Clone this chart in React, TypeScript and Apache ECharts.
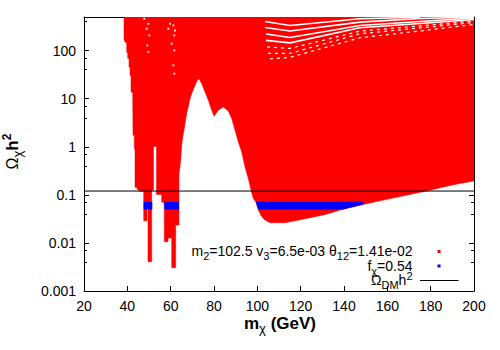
import React, { useEffect, useRef } from 'react';
import * as echarts from 'echarts';

const FONT = "'Liberation Sans', Arial, Helvetica, sans-serif";

// axis ranges / ticks
const xRange = [20, 200];
const xStep = 20;
const yRange = [0.001, 500];
const omegaDM = 0.12;

// boundary of the red (all points) region, m_chi [GeV] vs Omega h^2
const redRegion: [number, number][] = [
  [38.46, 500], [200, 500], [200, 0.195], [193.5, 0.172], [187.4, 0.151], [179.7, 0.125],
  [156.6, 0.075], [148.9, 0.0631], [144.3, 0.0562], [138.2, 0.0481], [132.0, 0.0397],
  [122.8, 0.0323], [112.8, 0.0262], [105.9, 0.0262], [103.1, 0.0308], [101.6, 0.0378],
  [100.5, 0.0481], [99.25, 0.0715], [98.14, 0.0841], [97.08, 0.125], [95.83, 0.219],
  [94.31, 0.381], [92.78, 0.78], [91.22, 1.26], [89.69, 2.2], [88.17, 3.85], [86.6, 5.54],
  [84.29, 6.71], [81.98, 5.73], [80.0, 4.3], [78.94, 5.73], [77.37, 9.25], [75.85, 13.7],
  [74.32, 20.5], [73.08, 26.1], [72.29, 24.0], [71.23, 18.9], [69.98, 13.7], [68.92, 10.0],
  [68.14, 6.71], [67.4, 4.9], [66.75, 3.28], [66.15, 2.2], [65.55, 1.6], [65.09, 1.07],
  [64.63, 0.525], [63.85, 0.256],
  [63.85, 0.0235], [62.32, 0.0235], [62.32, 0.00305], [60.48, 0.00305], [60.48, 0.0126],
  [58.77, 0.0126], [58.77, 0.0106], [57.06, 0.0106], [57.06, 0.0705], [55.86, 0.0705],
  [55.86, 0.102], [53.46, 0.102], [53.46, 1.01], [52.08, 1.01], [52.08, 0.125],
  [51.25, 0.125], [51.25, 0.00406], [49.54, 0.00406], [49.54, 0.0505], [49.08, 0.0505],
  [49.08, 0.0288], [47.55, 0.0288], [47.55, 0.119], [45.38, 0.119], [45.38, 0.129],
  [44.46, 0.129], [44.46, 0.144], [43.54, 0.144], [43.54, 0.9], [43.22, 0.9], [43.22, 1.73],
  [42.62, 1.73], [42.48, 13.6], [41.69, 13.6], [41.69, 30.5], [41.23, 30.5], [41.23, 44.8],
  [40.77, 44.8], [40.77, 68.9], [40.17, 68.9], [40.17, 91.8], [39.71, 91.8], [39.71, 148],
  [38.92, 148], [38.92, 163], [38.46, 163],
];

// blue points (f_chi = 0.54)
const blueLeft: [number, number][] = [[47.55, 0.0715], [51.52, 0.0715], [51.52, 0.0497], [47.55, 0.0497]];
const blueMid: [number, number][] = [[57.06, 0.0715], [63.85, 0.0715], [63.85, 0.0497], [57.06, 0.0497]];
const blueRight: [number, number][] = [[99.25, 0.0715], [148.9, 0.0715], [148.9, 0.0631], [139.4, 0.0497], [100.4, 0.0497]];
const blueBands = [blueLeft, blueMid, blueRight];

// white gaps between the scan lines at the top right
const whiteStripes: [number, number][][] = [
  [[103.5, 404], [115.1, 334], [147.4, 459], [175.1, 495]],
  [[103.5, 303], [115.1, 256], [147.4, 391], [175.1, 466], [200, 495]],
  [[104.0, 222], [115.1, 188], [147.4, 334], [175.1, 404], [200, 477]],
  [[104.0, 163], [115.1, 145], [147.4, 299], [175.1, 367], [200, 445]],
  [[104.5, 119], [115.1, 111], [147.4, 254], [175.1, 326], [200, 414]],
  [[104.9, 87.5], [115.1, 87.5], [147.4, 224], [175.1, 296], [200, 385]],
  [[105.8, 67.3], [115.1, 72.3], [147.4, 185], [175.1, 256], [200, 350]],
];

// isolated white gaps at the top left
const whiteSpecks: [number, number][] = [
  [47.83, 459], [49.68, 362], [48.94, 285], [50.14, 207], [49.22, 128], [49.68, 93.1],
  [59.69, 362], [61.22, 334], [58.91, 285], [62.0, 262], [61.68, 207], [60.48, 139],
  [61.68, 101], [61.22, 49.3], [61.68, 33.1],
];

// text segments: [text, kind] kind: 'n' normal, 's' subscript, 'p' superscript
type Seg = [string, string];
const legendRow1: Seg[] = [['m', 'n'], ['2', 's'], ['=102.5 v', 'n'], ['3', 's'], ['=6.5e-03 θ', 'n'], ['12', 's'], ['=1.41e-02', 'n']];
const legendRow2: Seg[] = [['f', 'n'], ['χ', 's'], ['=0.54', 'n']];
const legendRow3: Seg[] = [['Ω', 'n'], ['DM', 's'], ['h', 'n'], ['2', 'p']];
const xTitle: Seg[] = [['m', 'b'], ['χ', 's'], [' (GeV)', 'b']];
const yTitle: Seg[] = [['Ω', 'g'], ['χ', 's'], ['h', 'b'], ['2', 'p']];

export default function App() {
  const ref = useRef<HTMLDivElement>(null);
  useEffect(() => {
    const chart = echarts.init(ref.current as HTMLDivElement, null, { renderer: 'svg' });
    const ctx = document.createElement('canvas').getContext('2d') as CanvasRenderingContext2D;

    type Sty = { size: number; weight: string; dy: number; lh: number };
    const layout = (segs: Seg[], stys: Record<string, Sty>, anchor: 'right' | 'center') => {
      const parts = segs.map(([t, k]) => {
        const s = stys[k];
        ctx.font = `${s.weight} ${s.size}px ${FONT}`;
        return { t, s, w: ctx.measureText(t).width };
      });
      const total = parts.reduce((a, p) => a + p.w, 0);
      let cx = anchor === 'right' ? -total : -total / 2;
      return parts.map((p) => {
        const el = {
          type: 'text', x: cx, y: p.s.dy,
          style: {
            text: p.t, fontSize: p.s.size, fontWeight: p.s.weight, fontFamily: FONT, lineHeight: p.s.lh,
            fill: '#000', align: 'left', verticalAlign: 'middle',
          },
        };
        cx += p.w;
        return el;
      });
    };
    const legendSty: Record<string, Sty> = {
      n: { size: 14, weight: 'normal', dy: 0, lh: 10 },
      s: { size: 11, weight: 'normal', dy: 5, lh: 9 },
      p: { size: 11, weight: 'normal', dy: -4.5, lh: 9 },
    };
    const titleSty: Record<string, Sty> = {
      b: { size: 17, weight: 'bold', dy: 0, lh: 18 },
      g: { size: 16, weight: 'normal', dy: 0, lh: 18 },
      s: { size: 13, weight: 'normal', dy: 5, lh: 13 },
      p: { size: 12, weight: 'bold', dy: -5, lh: 12 },
    };

    const axisLine = { show: true, onZero: false, lineStyle: { color: '#000', width: 1 } };
    const tick = { show: true, inside: true, length: 5, lineStyle: { color: '#000', width: 1 } };
    const minorTick = { show: true, splitNumber: 3, length: 3, lineStyle: { color: '#000', width: 1 } };
    const yAx = (pos: string, labels: boolean) => ({
      type: 'log', logBase: 10, min: yRange[0], max: yRange[1], position: pos,
      axisLine, axisTick: tick, minorTick,
      splitLine: { show: false }, minorSplitLine: { show: false },
      axisLabel: {
        show: labels, color: '#000', fontSize: 14, fontFamily: FONT, margin: 8,
        showMaxLabel: false,
        formatter: (v: number) => String(parseFloat(v.toPrecision(6))),
      },
    });
    const xAx = (pos: string, labels: boolean) => ({
      type: 'value', min: xRange[0], max: xRange[1], interval: xStep, position: pos,
      axisLine, axisTick: tick, splitLine: { show: false },
      axisLabel: { show: labels, color: '#000', fontSize: 14, fontFamily: FONT, margin: 8 },
    });

    const option: any = {
      animation: false,
      backgroundColor: '#ffffff',
      textStyle: { fontFamily: FONT },
      grid: { left: 84, right: 26, top: 17, bottom: 59, show: false, outerBoundsMode: 'none' },
      xAxis: [xAx('bottom', true), xAx('top', false)],
      yAxis: [yAx('left', true), yAx('right', false)],
      series: [
        {
          type: 'custom', xAxisIndex: 0, yAxisIndex: 0, z: 1, silent: true, clip: true,
          data: [[redRegion[0][0], redRegion[0][1], 0]], encode: { x: 0, y: 1 },
          renderItem: (_p: any, api: any) => ({
            type: 'polygon',
            shape: { points: redRegion.map((pt) => api.coord(pt)) },
            style: { fill: '#ff0000', stroke: '#ff0000', lineWidth: 0.5 },
          }),
        },
        {
          type: 'custom', xAxisIndex: 0, yAxisIndex: 0, z: 2, silent: true, clip: true,
          data: blueBands.map((b, i) => [b[0][0], b[0][1], i]), encode: { x: 0, y: 1 },
          renderItem: (params: any, api: any) => ({
            type: 'polygon',
            shape: { points: blueBands[params.dataIndex].map((pt) => api.coord(pt)) },
            style: { fill: '#0000ff' },
          }),
        },
        ...whiteStripes.map((s, i) => ({
          type: 'line', xAxisIndex: 0, yAxisIndex: 0, z: 3, silent: true, data: s,
          symbol: 'none', showSymbol: false,
          lineStyle: { color: '#ffffff', width: i < 4 ? 1.6 : 1.2, type: i < 4 ? 'solid' : [3, 4] },
        })),
        {
          type: 'scatter', xAxisIndex: 0, yAxisIndex: 0, z: 3, silent: true, data: whiteSpecks,
          symbol: 'rect', symbolSize: 2, itemStyle: { color: '#ffffff' },
        },
        {
          type: 'line', xAxisIndex: 0, yAxisIndex: 0, z: 4, silent: true,
          data: [[xRange[0], omegaDM], [xRange[1], omegaDM]],
          symbol: 'none', showSymbol: false, lineStyle: { color: '#000', width: 1 },
        },
      ],
      graphic: [
        { type: 'group', x: 412.5, y: 251, children: layout(legendRow1, legendSty, 'right') },
        { type: 'rect', shape: { x: 437.5, y: 250, width: 3, height: 3 }, style: { fill: '#ff0000' } },
        { type: 'group', x: 412.5, y: 265.5, children: layout(legendRow2, legendSty, 'right') },
        { type: 'rect', shape: { x: 437.5, y: 264.5, width: 3, height: 3 }, style: { fill: '#0000ff' } },
        { type: 'group', x: 412.5, y: 280, children: layout(legendRow3, legendSty, 'right') },
        { type: 'line', shape: { x1: 420, y1: 280.5, x2: 458.5, y2: 280.5 }, style: { stroke: '#000', lineWidth: 1 } },
        { type: 'group', x: 280, y: 323, children: layout(xTitle, titleSty, 'center') },
        { type: 'group', x: 12, y: 151.5, rotation: Math.PI / 2, children: layout(yTitle, titleSty, 'center') },
      ],
    };
    chart.setOption(option);
    return () => chart.dispose();
  }, []);
  return <div ref={ref} style={{ position: 'absolute', left: 0, top: 0, width: 500, height: 350 }} />;
}
